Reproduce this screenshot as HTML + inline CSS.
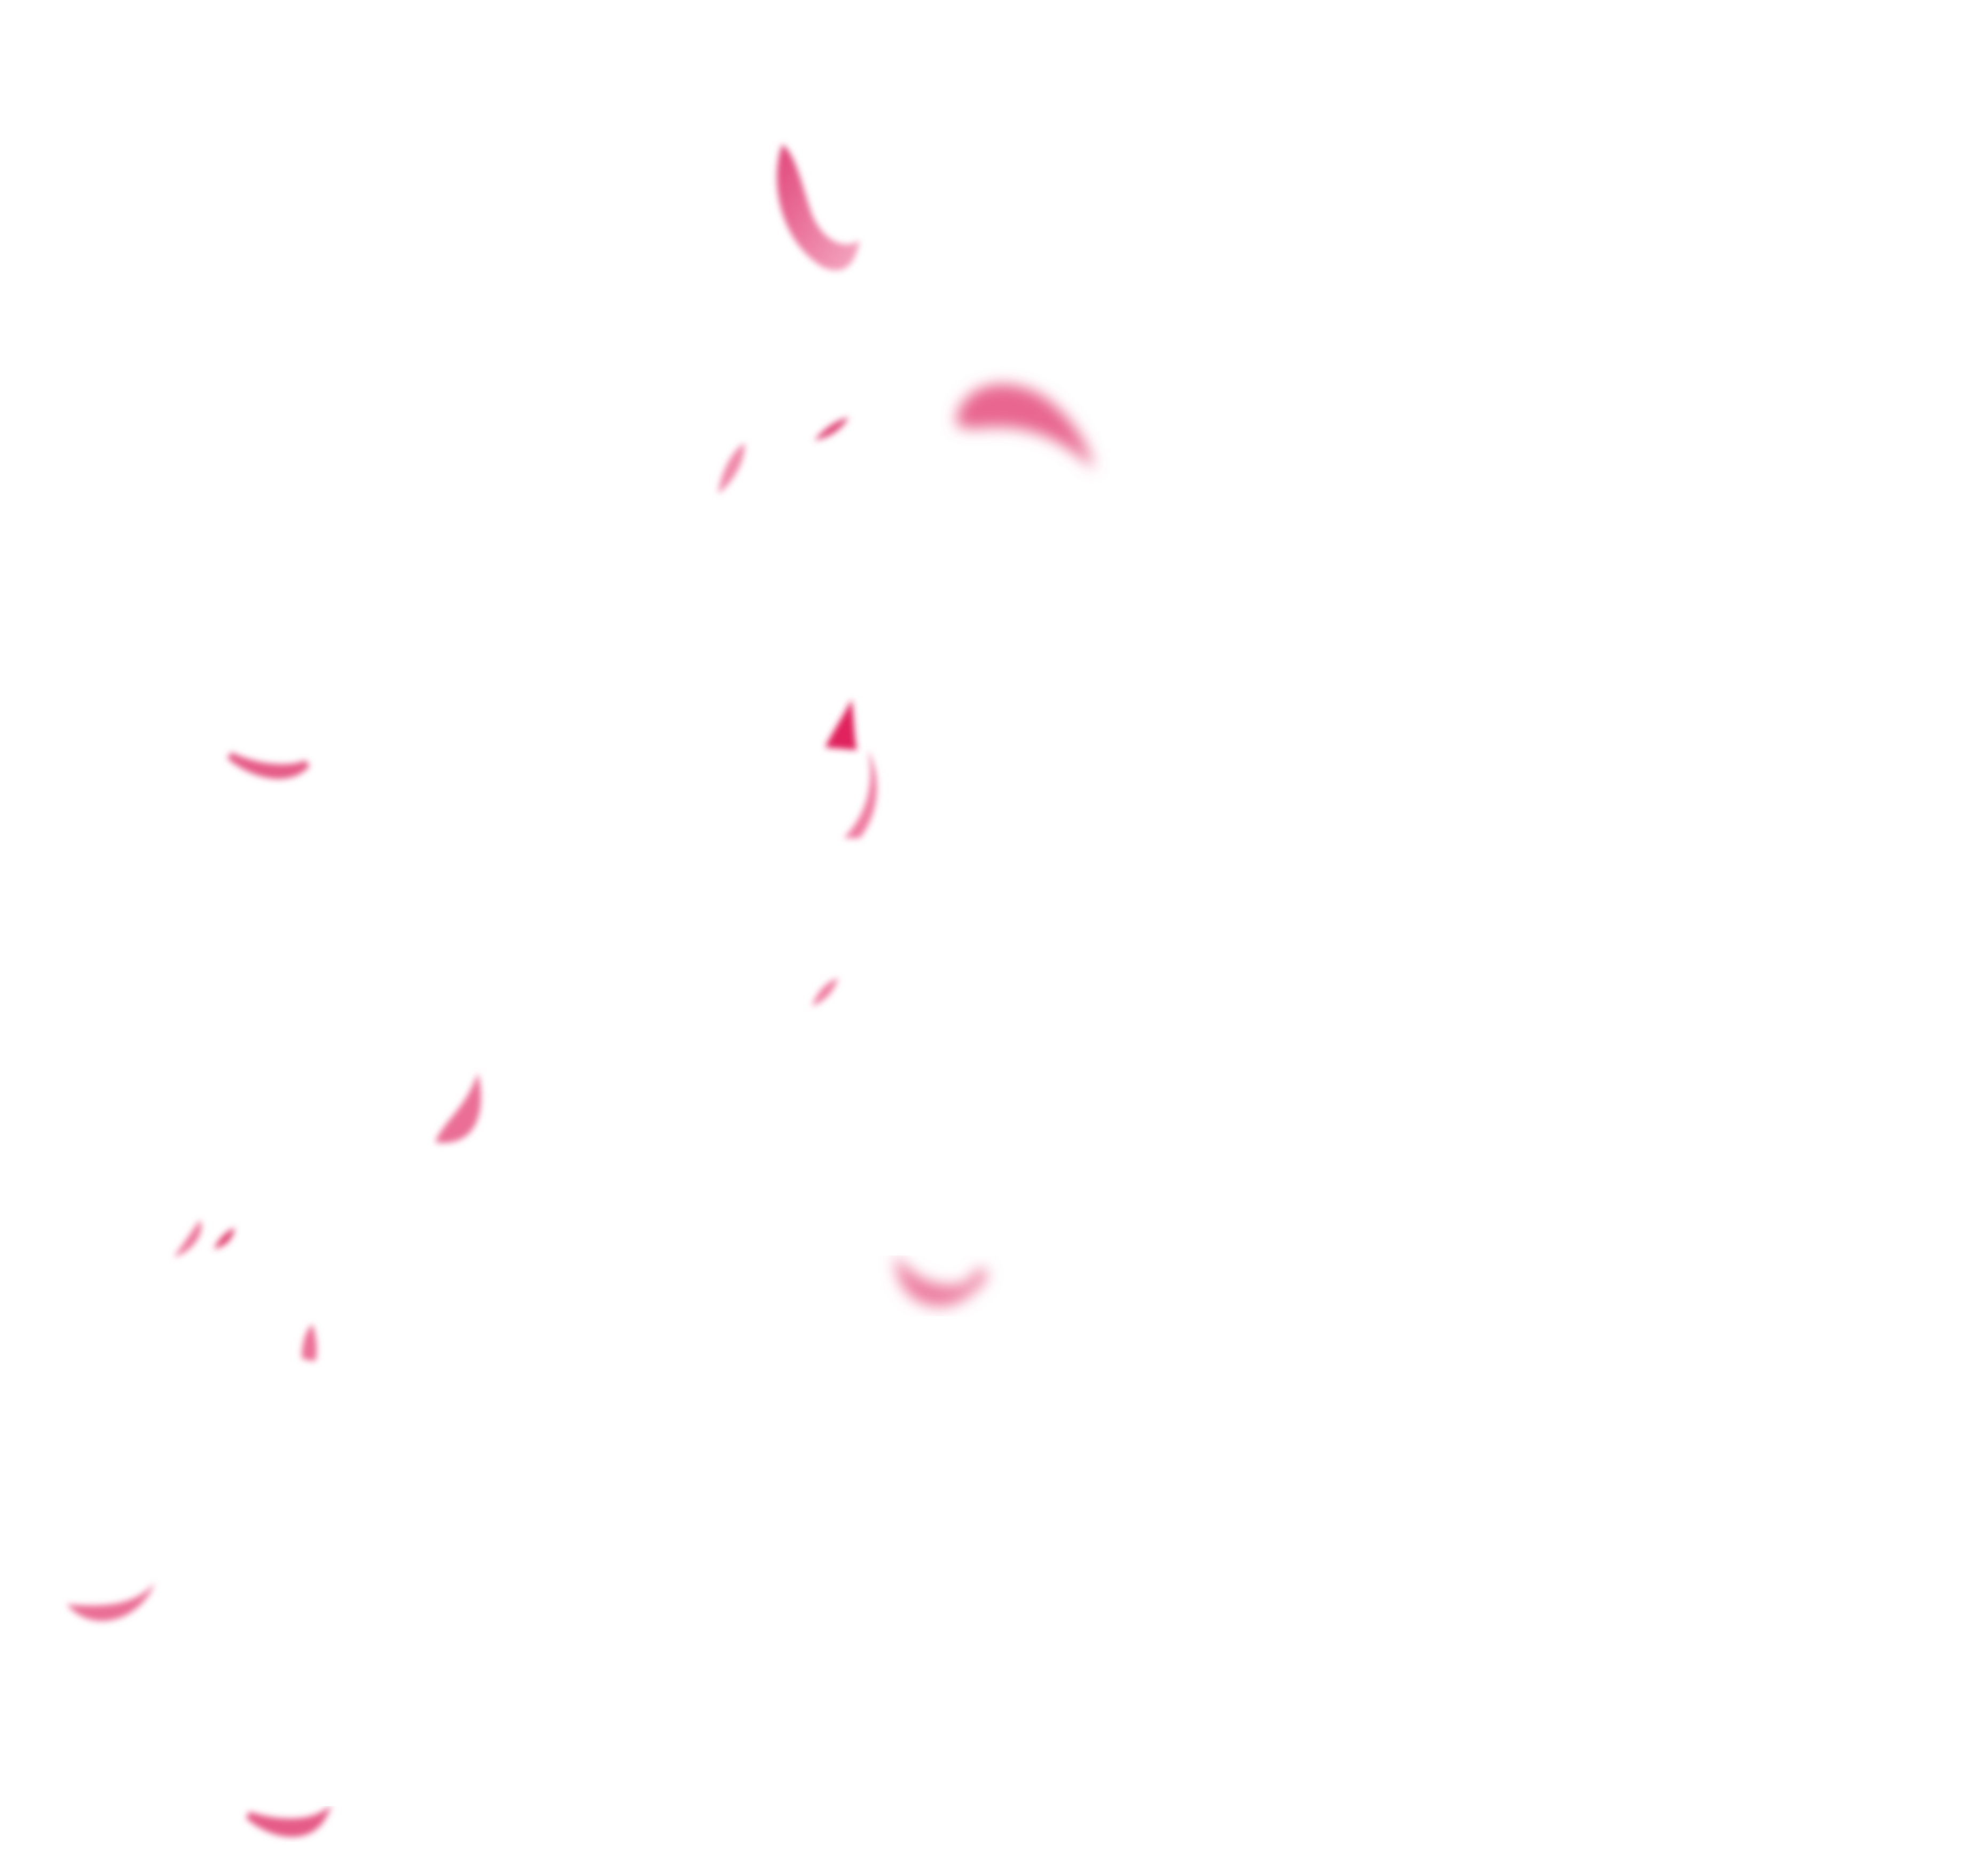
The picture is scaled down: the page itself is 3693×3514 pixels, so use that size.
<!DOCTYPE html>
<html><head><meta charset="utf-8"><style>
html,body{margin:0;padding:0;background:#fff;}
svg{display:block;}
</style></head><body>
<svg width="3693" height="3514" viewBox="0 0 3693 3514" xmlns="http://www.w3.org/2000/svg">
<defs>
<filter id="b1" x="-50%" y="-50%" width="200%" height="200%"><feGaussianBlur stdDeviation="6"/></filter>
<filter id="b2" x="-50%" y="-50%" width="200%" height="200%"><feGaussianBlur stdDeviation="14"/></filter>
<linearGradient id="g" x1="0" y1="0" x2="1" y2="1"><stop offset="0" stop-color="#e0467a"/><stop offset="1" stop-color="#f5a9c2"/></linearGradient>
</defs>
<!-- top petal -->
<path d="M1465 270 C1440 340 1460 450 1540 500 C1575 515 1600 505 1610 450 C1580 470 1540 450 1520 400 C1500 340 1490 290 1465 270Z" fill="url(#g)" filter="url(#b1)"/>
<!-- big crescent -->
<path d="M1790 790 C1800 720 1880 700 1950 740 C2010 780 2040 840 2050 880 C2000 830 1940 800 1870 800 C1830 800 1800 810 1790 790Z" fill="#e8668f" filter="url(#b2)"/>
<path d="M1525 825 C1545 800 1570 785 1590 782 C1575 805 1555 820 1525 825Z" fill="#e04a7a" filter="url(#b1)"/>
<path d="M1345 925 C1350 880 1375 840 1395 830 C1395 870 1370 905 1345 925Z" fill="#f08aab" filter="url(#b1)"/>
<path d="M430 1415 C470 1450 540 1470 575 1430 C545 1445 480 1440 430 1415Z" fill="#e55c88" filter="url(#b1)" stroke="#e55c88" stroke-width="14"/>
<path d="M1545 1400 C1560 1370 1580 1340 1595 1310 C1600 1350 1600 1385 1605 1405 Z" fill="#e0205d" filter="url(#b1)"/>
<path d="M1580 1570 C1620 1530 1640 1470 1625 1405 C1650 1450 1650 1520 1610 1570 Z" fill="#ef7da2" filter="url(#b1)"/>
<path d="M1520 1885 C1530 1860 1545 1840 1570 1832 C1560 1860 1545 1875 1520 1885Z" fill="#ef7ea2" filter="url(#b1)"/>
<path d="M815 2140 C830 2100 870 2080 895 2010 C910 2070 900 2150 815 2140Z" fill="#ea6e96" filter="url(#b1)"/>
<path d="M325 2355 C345 2330 360 2305 375 2285 C385 2310 360 2345 325 2355Z" fill="#ec7399" filter="url(#b1)"/>
<path d="M400 2340 C410 2320 425 2305 440 2300 C435 2325 420 2335 400 2340Z" fill="#e0406f" filter="url(#b1)"/>
<path d="M1690 2380 C1700 2440 1790 2470 1840 2380 C1830 2430 1740 2430 1690 2380Z" fill="#ec7a9e" filter="url(#b2)" stroke="#ec7a9e" stroke-width="20"/>
<path d="M565 2545 C565 2510 575 2490 585 2480 C595 2510 595 2540 590 2550Z" fill="#ec6f96" filter="url(#b1)"/>
<path d="M125 3005 C190 3010 250 3010 290 2965 C260 3040 170 3060 125 3005Z" fill="#ea6e96" filter="url(#b1)"/>
<path d="M465 3400 C510 3440 580 3450 605 3400 C570 3420 510 3415 465 3400Z" fill="#e55c88" filter="url(#b1)" stroke="#e55c88" stroke-width="14"/>
</svg>
</body></html>
